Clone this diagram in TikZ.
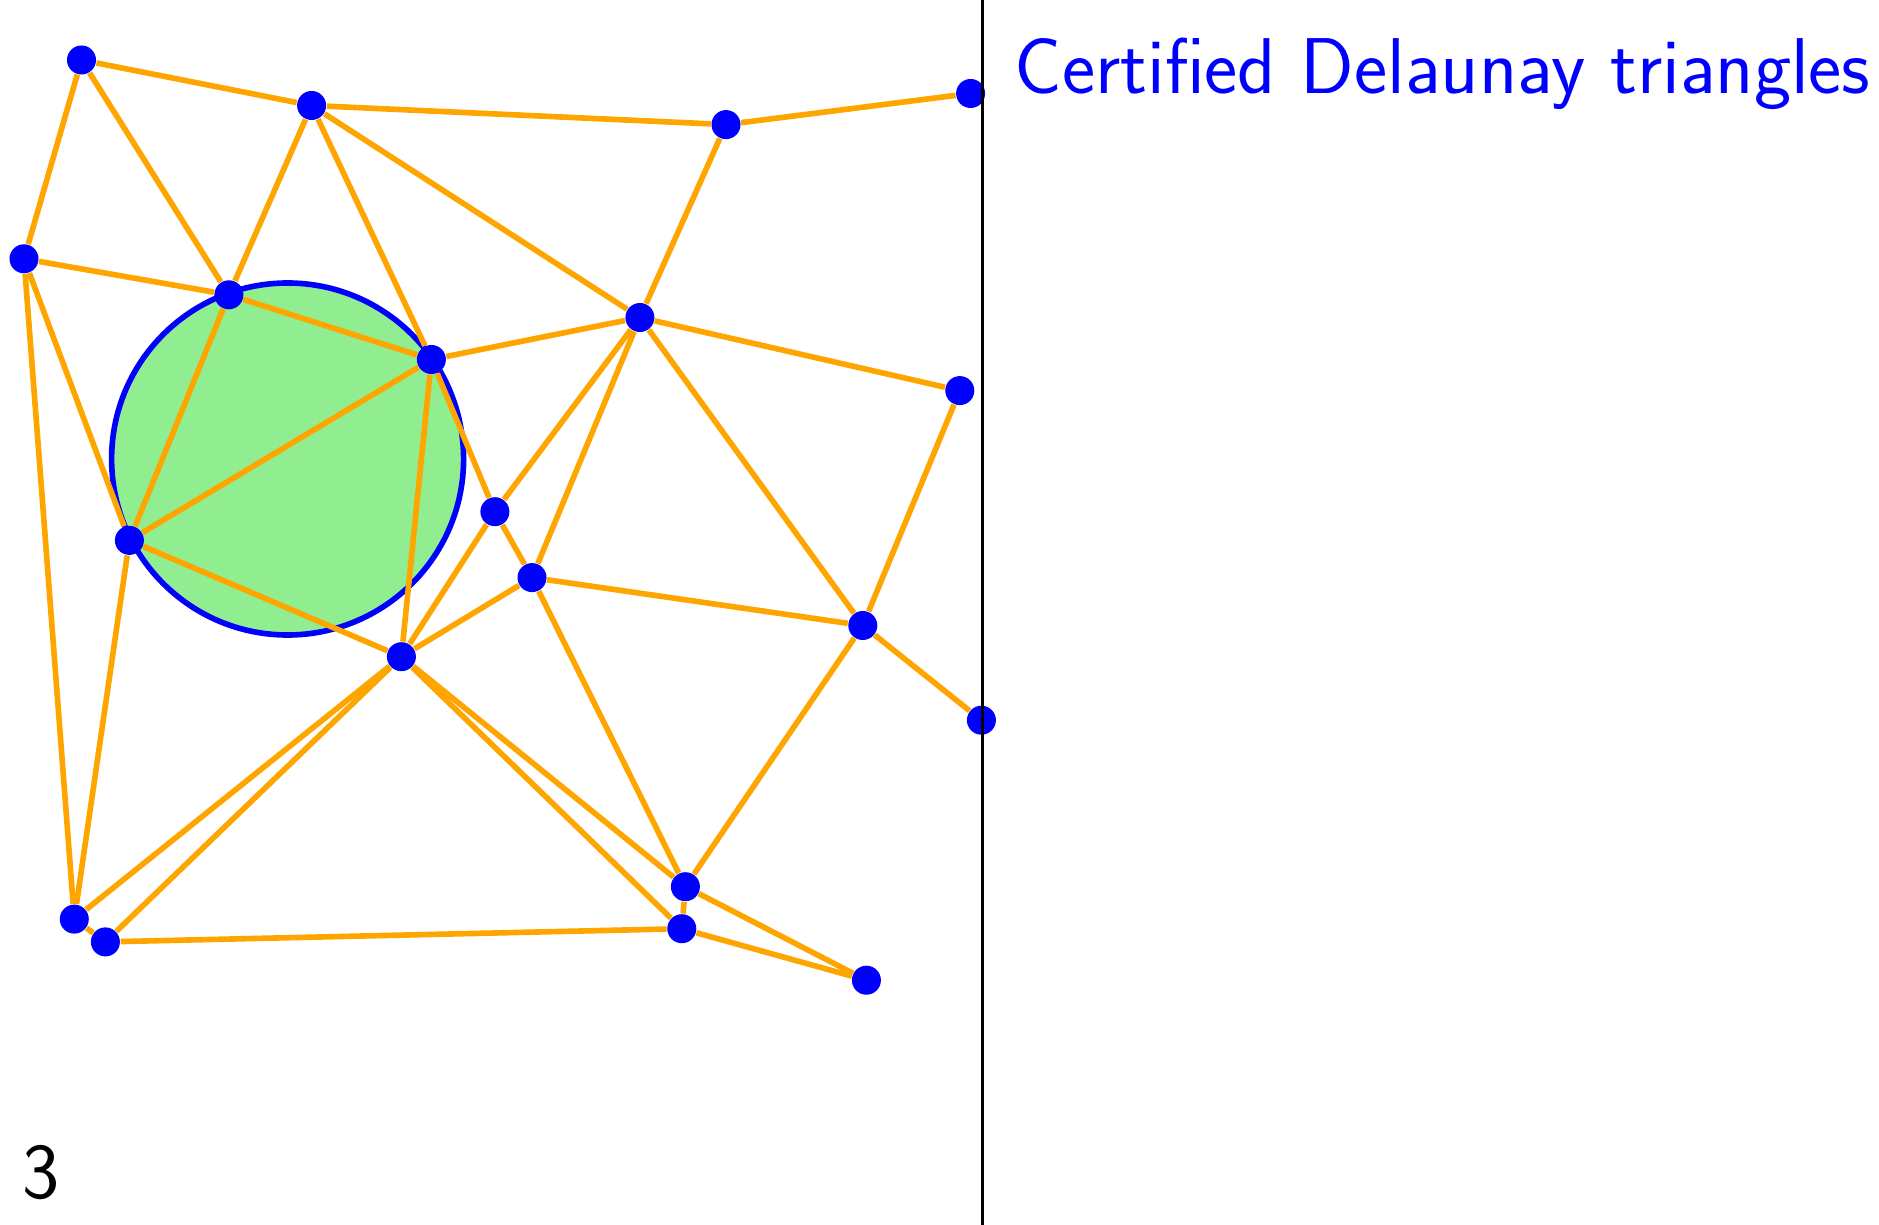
\documentclass[tikz,border=0pt]{standalone}
\usepackage{tikz}

\definecolor{edgeorange}{RGB}{255,165,0}
\definecolor{discgreen}{RGB}{144,238,144}

\begin{document}
\begin{tikzpicture}[
  x=0.01cm,y=-0.01cm,
  site/.style={circle,fill=blue,inner sep=0pt,minimum size=2.9mm},
  edge/.style={draw=edgeorange,line width=1.6pt},
  caption/.style={font=\sffamily\fontsize{22.5}{27}\selectfont,inner sep=0pt}
]
  \useasboundingbox (0,0) rectangle (1879,1225);

  % empty circumcircle
  \coordinate (centre) at (287.6,459);
  \draw[blue,fill=discgreen,line width=1.6pt] (centre) circle[radius=176];

  % sites
  \foreach \name/\x/\y in {
    a/81.5/60, b/311.6/105.5, c/726/124.6, d/970.6/93.5,
    e/24/258.8, f/228.9/294.8, g/431.4/359.5, h/639.9/317.5,
    i/959.8/390.6, j/129.4/540.4, k/494.9/511.7, l/532/577.6,
    m/862.8/625.5, n/401.4/656.7, o/981.4/720.2, p/74.3/919.1,
    q/105.4/941.9, r/685.4/886.7, s/681.8/928.7, t/866.4/980.2}
    \node[site] (\name) at (\x,\y) {};

  % triangulation
  \foreach \u/\v in {
    a/b, a/e, a/f, b/c, b/f, b/g, b/h, c/d, c/h,
    e/f, e/j, e/p, f/g, f/j, g/h, g/j, g/n, g/k,
    h/i, h/k, h/l, h/m, i/m, j/n, j/p, k/n, k/l,
    l/n, l/m, l/r, m/r, m/o, n/p, n/q, n/r, n/s,
    p/q, q/s, r/s, r/t, s/t}
    \draw[edge] (\u) -- (\v);

  % divider
  \coordinate (divtop) at (982.6,0);
  \coordinate (divbot) at (982.6,1225);
  \draw[line width=0.9pt] (divtop) -- (divbot);

  \node[caption,text=blue,anchor=base west] (heading) at (1013.8,93.5) {Certified Delaunay triangles};
  \node[caption,anchor=base west] (pagenum) at (21.6,1198) {3};
\end{tikzpicture}
\end{document}
